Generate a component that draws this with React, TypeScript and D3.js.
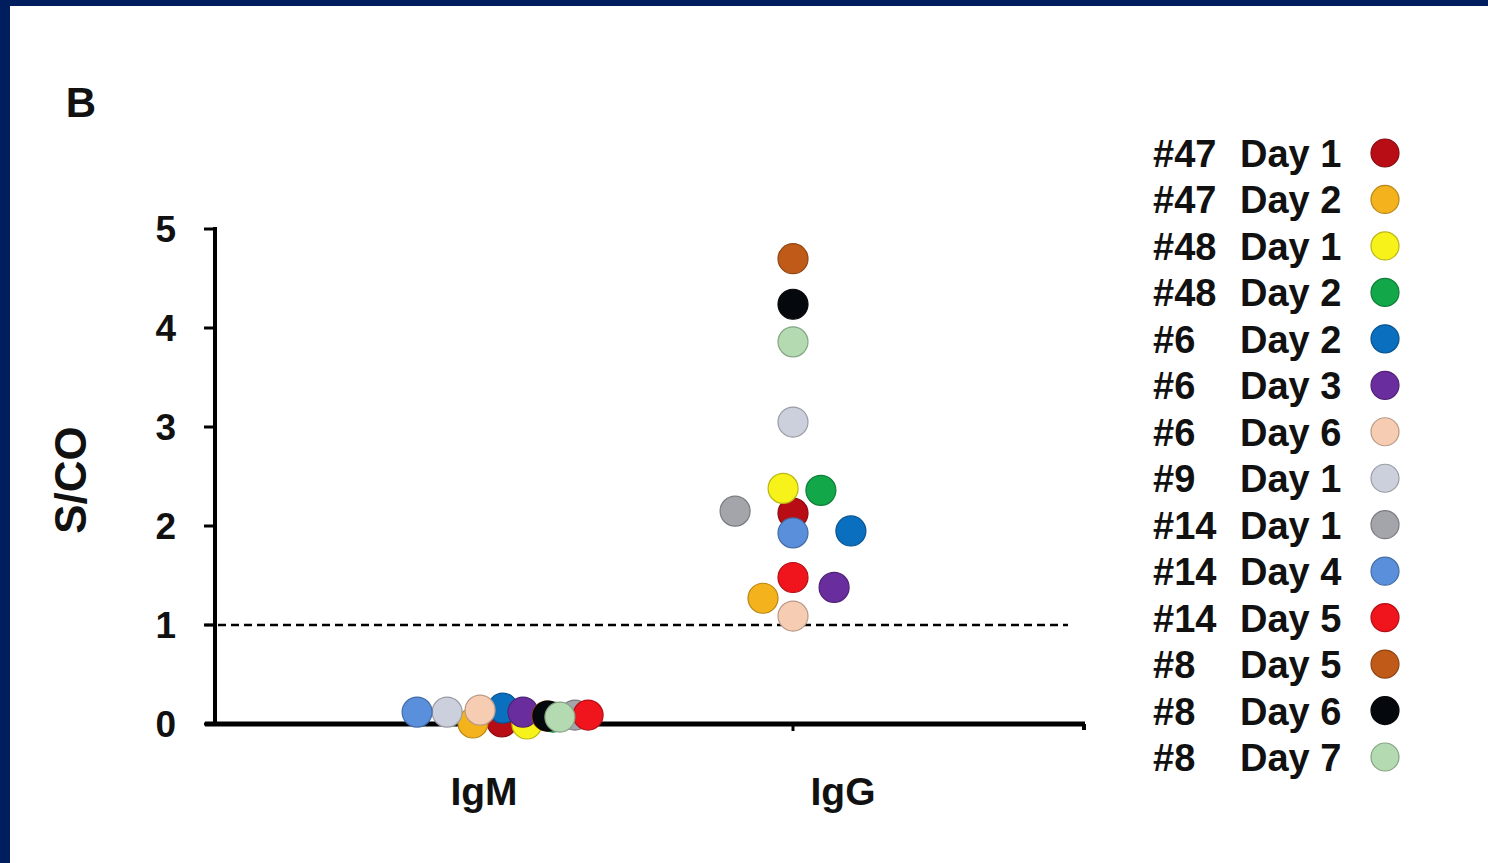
import React from "react";
import * as d3 from "d3";

// legend entries (sample id, day) and their colours
const sampleIds = ["#47", "#47", "#48", "#48", "#6", "#6", "#6", "#9", "#14", "#14", "#14", "#8", "#8", "#8"];
const sampleDays = ["Day 1", "Day 2", "Day 1", "Day 2", "Day 2", "Day 3", "Day 6", "Day 1", "Day 1", "Day 4", "Day 5", "Day 5", "Day 6", "Day 7"];
const sampleColors = [
  "#b80d14", "#f4b21c", "#f7f21a", "#12a84a", "#0a6fbf", "#6a2d9e", "#f6cdb3",
  "#cbd0dc", "#a3a5aa", "#5a8fdc", "#f0141c", "#c05a18", "#05080c", "#b3dab0",
];

const categories = ["IgM", "IgG"];
const yTicks = [0, 1, 2, 3, 4, 5];
const cutoff = 1;

// S/CO values per sample, same order as the legend
const igmValues = [0.02, 0.01, 0.0, 0.07, 0.16, 0.12, 0.14, 0.12, 0.09, 0.12, 0.09, 0.08, 0.08, 0.07];
const iggValues = [2.13, 1.27, 2.38, 2.36, 1.95, 1.38, 1.09, 3.05, 2.15, 1.93, 1.48, 4.7, 4.24, 3.86];

// horizontal spread of overlapping dots, in dot diameters
const igmJitter = [0, -0.97, 0.83, 1.7, 0.03, 0.7, -0.73, -1.83, 2.43, -2.83, 2.87, 1.5, 1.53, 1.93];
const iggJitter = [0, -1.0, -0.33, 0.93, 1.93, 1.37, 0, 0, -1.93, 0, 0, 0, 0, 0];

const W = 1488;
const H = 863;
const R = 15;
const FONT = "'Liberation Sans', Arial, sans-serif";

export default function App() {
  const y = d3.scaleLinear().domain([0, 5]).range([724, 229]);
  const x = d3.scalePoint().domain(categories).range([502, 793]);
  const xLabel = d3.scalePoint().domain(categories).range([484, 843]);
  const legendY = d3.scalePoint().domain(d3.range(sampleIds.length).map(String)).range([153, 757]);

  const axisLeft = 215;
  const axisRight = 1085;

  const dots = [
    ...igmValues.map((v, i) => ({ cat: "IgM", v, j: igmJitter[i], c: sampleColors[i] })),
    ...iggValues.map((v, i) => ({ cat: "IgG", v, j: iggJitter[i], c: sampleColors[i] })),
  ];

  return (
    <svg width={W} height={H} style={{ position: "absolute", left: 0, top: 0, background: "#fff" }}>
      {/* navy frame */}
      <rect x={0} y={0} width={W} height={6} fill="#001d5e" />
      <rect x={0} y={0} width={10} height={H} fill="#001d5e" />

      <text x={81} y={117} fontFamily={FONT} fontWeight="bold" fontSize={42} textAnchor="middle" fill="#111">B</text>

      {/* y axis */}
      <line x1={axisLeft} x2={axisLeft} y1={y(5) - 2} y2={y(0) + 2} stroke="#000" strokeWidth={4} />
      {yTicks.map((t) => (
        <g key={t}>
          <line x1={axisLeft - 11} x2={axisLeft} y1={y(t)} y2={y(t)} stroke="#000" strokeWidth={3} />
          <text x={176} y={y(t) + 13} fontFamily={FONT} fontWeight="bold" fontSize={37} textAnchor="end" fill="#111">{t}</text>
        </g>
      ))}
      <text
        transform={`translate(86,${480}) rotate(-90)`}
        fontFamily={FONT} fontWeight="bold" fontSize={44} textAnchor="middle" fill="#111"
      >S/CO</text>

      {/* x axis */}
      <line x1={205} x2={axisRight} y1={y(0)} y2={y(0)} stroke="#000" strokeWidth={5} />
      <line x1={axisRight - 1} x2={axisRight - 1} y1={y(0)} y2={y(0) + 6} stroke="#000" strokeWidth={4} />
      {categories.map((c) => (
        <g key={c}>
          <line x1={x(c)} x2={x(c)} y1={y(0)} y2={y(0) + 7} stroke="#000" strokeWidth={3} />
          <text x={xLabel(c)} y={y(0) + 81} fontFamily={FONT} fontWeight="bold" fontSize={39} textAnchor="middle" fill="#111">{c}</text>
        </g>
      ))}

      {/* cut-off */}
      <line x1={205} x2={1068} y1={y(cutoff)} y2={y(cutoff)} stroke="#000" strokeWidth={2.5} strokeDasharray="8 5" />

      {dots.map((d, i) => (
        <circle
          key={i}
          cx={(x(d.cat) as number) + d.j * 2 * R}
          cy={y(d.v)}
          r={R}
          fill={d.c}
          stroke={d3.color(d.c)!.darker(0.8).formatHex()}
          strokeWidth={1.2}
        />
      ))}

      {/* legend */}
      {sampleIds.map((id, i) => {
        const cy = legendY(String(i)) as number;
        return (
          <g key={i}>
            <text x={1153} y={cy + 14} fontFamily={FONT} fontWeight="bold" fontSize={38} fill="#111">{id}</text>
            <text x={1240} y={cy + 14} fontFamily={FONT} fontWeight="bold" fontSize={38} fill="#111">{sampleDays[i]}</text>
            <circle cx={1385} cy={cy} r={14} fill={sampleColors[i]}
              stroke={d3.color(sampleColors[i])!.darker(0.8).formatHex()} strokeWidth={1.2} />
          </g>
        );
      })}
    </svg>
  );
}
